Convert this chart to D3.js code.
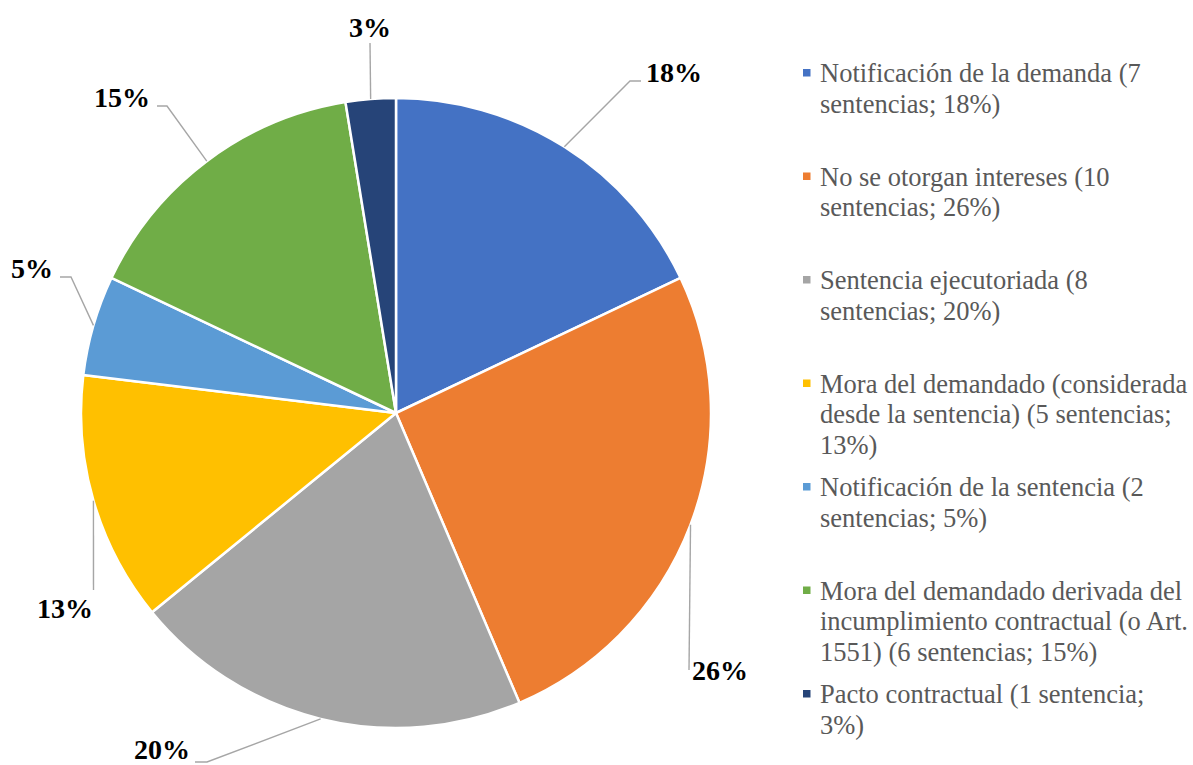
<!DOCTYPE html>
<html>
<head>
<meta charset="utf-8">
<script src="https://cdn.jsdelivr.net/npm/d3@7"></script>
<style>
  html, body { margin: 0; padding: 0; background: #fff; }
  svg { display: block; }
  text { font-family: "Liberation Serif", "Times New Roman", Times, serif; }
</style>
</head>
<body>
<svg></svg>
<script>
// Datos del gráfico
const categorias = [
  "Notificación de la demanda",
  "No se otorgan intereses",
  "Sentencia ejecutoriada",
  "Mora del demandado (considerada desde la sentencia)",
  "Notificación de la sentencia",
  "Mora del demandado derivada del incumplimiento contractual (o Art. 1551)",
  "Pacto contractual"
];
const sentencias = [7, 10, 8, 5, 2, 6, 1];
const porcentajes = [18, 26, 20, 13, 5, 15, 3];
const colores = ["#4472C4", "#ED7D31", "#A5A5A5", "#FFC000", "#5B9BD5", "#70AD47", "#264478"];

// Texto de la leyenda, en líneas como en el original
const lineasLeyenda = [
  ["Notificación de la demanda (7", "sentencias; 18%)"],
  ["No se otorgan intereses (10", "sentencias; 26%)"],
  ["Sentencia ejecutoriada (8", "sentencias; 20%)"],
  ["Mora del demandado (considerada", "desde la sentencia) (5 sentencias;", "13%)"],
  ["Notificación de la sentencia (2", "sentencias; 5%)"],
  ["Mora del demandado derivada del", "incumplimiento contractual (o Art.", "1551) (6 sentencias; 15%)"],
  ["Pacto contractual (1 sentencia;", "3%)"]
];

const width = 1193;
const height = 765;
const cx = 396, cy = 413, radio = 315;

const svg = d3.select("svg")
  .attr("width", width)
  .attr("height", height);

// Posición de las etiquetas (codo de la línea guía, cola horizontal, anclaje del texto)
// relativo al centro del pastel
const etiquetas = [
  { codo: [234, -332], cola: 11, texto: [250, -341], anchor: "start" },
  { codo: [293, 257], cola: 0, texto: [296, 257], anchor: "start" },
  { codo: [-189, 349], cola: -12, texto: [-206, 336], anchor: "end" },
  { codo: [-302.5, 177], cola: 0, texto: [-303, 195], anchor: "end" },
  { codo: [-325, -136], cola: -11, texto: [-343, -145], anchor: "end" },
  { codo: [-229, -307], cola: -10, texto: [-246, -316], anchor: "end" },
  { codo: [-26, -370], cola: 0, texto: [-26, -386], anchor: "middle" }
];

const pie = d3.pie().sort(null).value(d => d);
const arcos = pie(sentencias);

const arc = d3.arc().innerRadius(0).outerRadius(radio);

const g = svg.append("g").attr("transform", `translate(${cx},${cy})`);

// Sectores
g.selectAll("path.sector")
  .data(arcos)
  .join("path")
  .attr("class", "sector")
  .attr("d", arc)
  .attr("fill", (d, i) => colores[i])
  .attr("stroke", "#fff")
  .attr("stroke-width", 2.5)
  .attr("stroke-linejoin", "round");

// Líneas guía
g.selectAll("path.guia")
  .data(arcos)
  .join("path")
  .attr("class", "guia")
  .attr("fill", "none")
  .attr("stroke", "#A6A6A6")
  .attr("stroke-width", 1.4)
  .attr("d", (d, i) => {
    const a = (d.startAngle + d.endAngle) / 2;
    const x0 = radio * Math.sin(a), y0 = -radio * Math.cos(a);
    const e = etiquetas[i];
    const [x1, y1] = e.codo;
    return `M${x0},${y0}L${x1},${y1}L${x1 + e.cola},${y1}`;
  });

// Etiquetas de porcentaje
g.selectAll("text.etiqueta")
  .data(arcos)
  .join("text")
  .attr("class", "etiqueta")
  .attr("x", (d, i) => etiquetas[i].texto[0])
  .attr("y", (d, i) => etiquetas[i].texto[1])
  .attr("dy", "0.35em")
  .attr("text-anchor", (d, i) => etiquetas[i].anchor)
  .style("font-weight", "bold")
  .style("font-size", "28px")
  .attr("fill", "#000")
  .text((d, i) => porcentajes[i] + "%");

// Leyenda
const yLeyenda = d3.scaleLinear().domain([0, categorias.length - 1]).range([82, 703]);

const leyenda = svg.append("g")
  .selectAll("g")
  .data(categorias)
  .join("g")
  .attr("transform", (d, i) => `translate(803,${yLeyenda(i)})`);

leyenda.append("rect")
  .attr("x", 0)
  .attr("y", -13)
  .attr("width", 7.5)
  .attr("height", 7.5)
  .attr("fill", (d, i) => colores[i]);

leyenda.append("text")
  .style("font-size", "26.5px")
  .attr("fill", "#595959")
  .selectAll("tspan")
  .data((d, i) => lineasLeyenda[i])
  .join("tspan")
  .attr("x", 17)
  .attr("y", (d, j) => j * 30.5)
  .text(d => d);
</script>
</body>
</html>
